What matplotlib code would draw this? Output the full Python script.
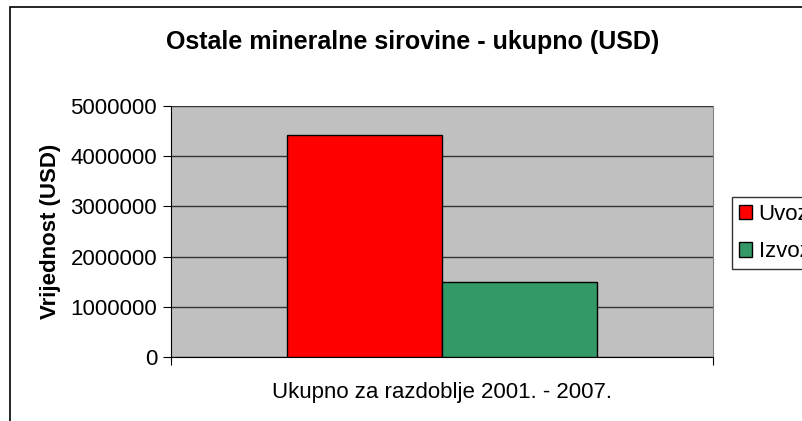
import numpy as np
import matplotlib.pyplot as plt
from matplotlib.patches import Rectangle

# Podaci
kategorija = ["Ukupno za razdoblje 2001. - 2007."]
serije = ["Uvoz", "Izvoz"]
vrijednosti = [4430000, 1490000]
boje = ["#FF0000", "#339966"]
y_ticks = [0, 1000000, 2000000, 3000000, 4000000, 5000000]

plt.rcParams["font.family"] = ["Liberation Sans", "DejaVu Sans"]

fig = plt.figure(figsize=(8.03, 4.21), dpi=100)
fig.patch.set_facecolor("white")

# okvir grafikona
fig.patches.append(Rectangle((10 / 803, -0.1), 1.2, 1 - 7 / 421 + 0.1,
                             transform=fig.transFigure, fill=False,
                             edgecolor="black", linewidth=1.2))

ax = fig.add_axes([171 / 803, 1 - 357 / 421, 542 / 803, 251 / 421])
ax.set_facecolor("#C0C0C0")

sirina = 0.286
x = np.arange(len(kategorija))
for i, (ime, v, c) in enumerate(zip(serije, vrijednosti, boje)):
    ax.bar(x + (i - 0.5) * sirina, [v], width=sirina, color=c,
           edgecolor="black", linewidth=1.0, label=ime, zorder=3)

ax.set_xlim(-0.5, 0.5)
ax.set_ylim(0, 5000000)
ax.set_yticks(y_ticks)
ax.set_yticklabels([str(t) for t in y_ticks], fontsize=16)
ax.yaxis.grid(True, color="#333333", linewidth=1.0, zorder=1)
ax.set_axisbelow(True)

ax.set_xticks([-0.5, 0.5])
ax.set_xticklabels(["", ""])
ax.tick_params(axis="x", direction="out", length=6, color="black")
ax.tick_params(axis="y", direction="out", length=6, color="black", pad=4)
ax.text(0, -0.1, kategorija[0], transform=ax.get_xaxis_transform(),
        ha="center", va="top", fontsize=16)

ax.spines["top"].set_visible(False)
ax.spines["right"].set_color("#808080")
ax.spines["left"].set_color("black")
ax.spines["bottom"].set_color("black")

ax.set_ylabel("Vrijednost (USD)", fontsize=16, fontweight="bold")
ax.yaxis.set_label_coords(-(171 - 61) / 542, 0.5)

fig.text(413 / 803, 1 - 42 / 421, "Ostale mineralne sirovine - ukupno (USD)",
         ha="center", va="center", fontsize=18, fontweight="bold")

leg = fig.legend(loc="upper left", bbox_to_anchor=(732 / 803, 1 - 197 / 421),
                 fontsize=16, frameon=True, fancybox=False, edgecolor="black",
                 handlelength=0.6, handleheight=0.6, handletextpad=0.3,
                 borderpad=0.3, labelspacing=0.75, borderaxespad=0)
leg.get_frame().set_linewidth(1.0)

fig.savefig("out.png", dpi=100)
